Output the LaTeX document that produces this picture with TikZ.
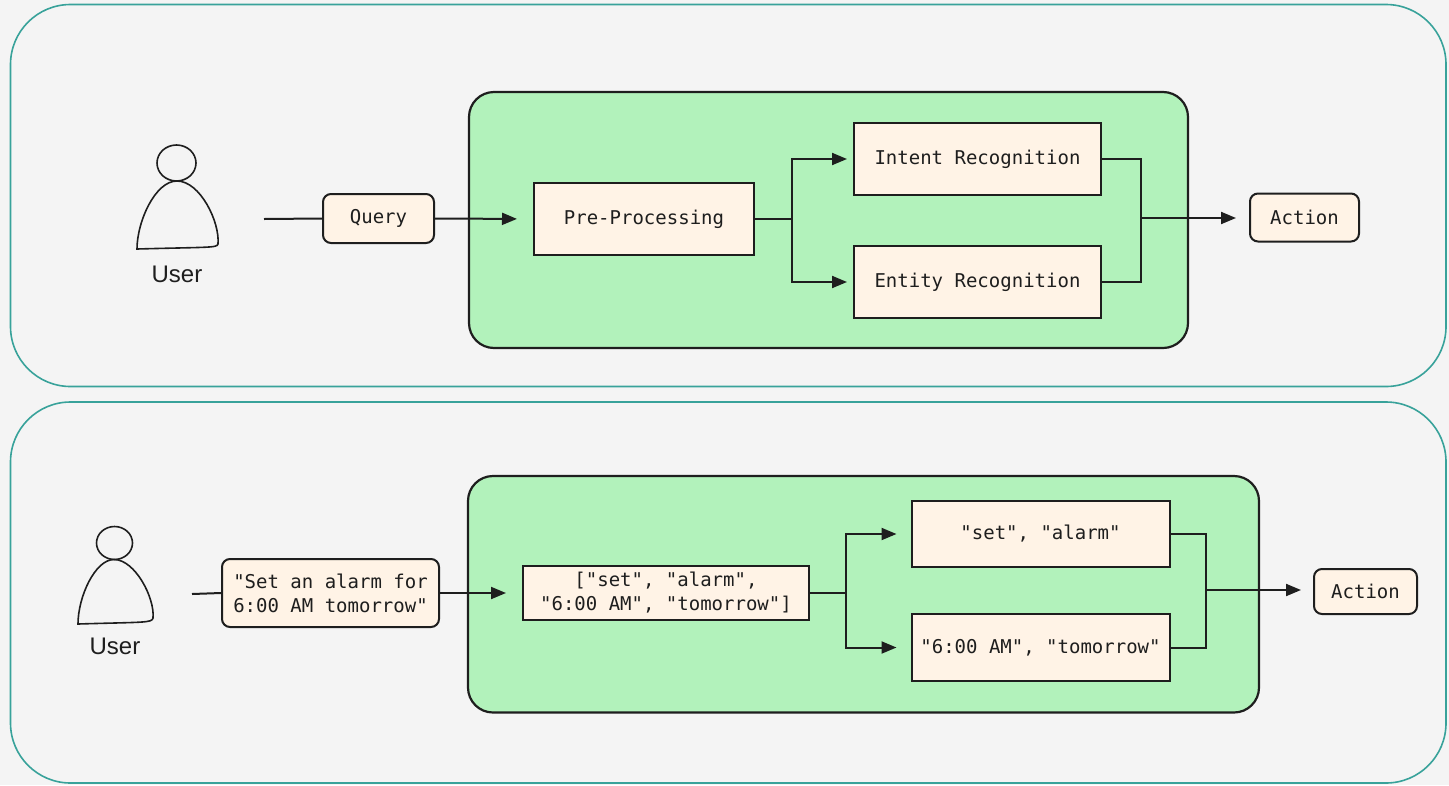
\documentclass[tikz,border=0pt]{standalone}
\usepackage{fontspec}
\setmonofont{DejaVu Sans Mono}
\setsansfont{Liberation Sans}
\usetikzlibrary{arrows.meta,positioning}
\definecolor{bgc}{HTML}{F4F4F4}
\definecolor{teal}{HTML}{38A29A}
\definecolor{greenc}{HTML}{B2F2BB}
\definecolor{boxc}{HTML}{FFF3E6}
\definecolor{ink}{HTML}{1E1E1E}
\tikzset{
  panel/.style={draw=teal,line width=1.6pt,rounded corners=60pt},
  stage/.style={draw=ink,fill=greenc,line width=2.2pt,rounded corners=25pt},
  sq/.style={draw=ink,fill=boxc,line width=2pt,text=ink,font=\ttfamily\fontsize{19}{24}\selectfont,align=center,inner sep=0pt},
  rd/.style={sq,rounded corners=8pt},
  conn/.style={draw=ink,line width=2pt},
  arr/.style={conn,-{Triangle[length=15pt,width=12pt]}},
  person/.style={draw=ink,line width=1.6pt},
  ulabel/.style={text=ink,font=\sffamily\fontsize{24}{28}\selectfont}
}
\begin{document}
\begin{tikzpicture}[x=1pt,y=-1pt]
\fill[bgc] (0,0) rectangle (1449,785);
\useasboundingbox (0,0) rectangle (1449,785);
% panels
\draw[panel] (10.5,4.5) rectangle (1446,386.5);
\draw[panel] (10.5,402) rectangle (1446,783);
% ---------- top ----------
\draw[stage] (469,92) rectangle (1188,348);
% user
\draw[person] (176.5,163) circle[x radius=19.5pt,y radius=18pt];
\draw[person] (137,249) .. controls (137,222) and (155,181) .. (177,181)
  .. controls (200,181) and (220,222) .. (218,244) .. controls (217,248) and (210,247) .. cycle;
\node[ulabel] (user1) at (177,274) {User};
\coordinate (u1) at (264,219);
\node[rd,minimum width=111pt,minimum height=49pt] (query) at (378.5,218.5) {Query};
\node[sq,minimum width=220pt,minimum height=72pt] (pre) at (644,219) {Pre-Processing};
\node[sq,minimum width=247pt,minimum height=72pt] (intent) at (977.5,159) {Intent Recognition};
\node[sq,minimum width=247pt,minimum height=72pt] (entity) at (977.5,282) {Entity Recognition};
\node[rd,minimum width=109pt,minimum height=48pt] (action1) at (1304.5,217.5) {Action};
\coordinate (b1) at (792,219);
\coordinate (m1) at (1141,218);
\draw[conn] (u1) -- (query.west);
\draw[arr,shorten >=16pt] (query.east) -- (pre.west);
\draw[conn] (pre.east) -- (b1);
\draw[arr,shorten >=6pt] (b1) |- (intent.west);
\draw[arr,shorten >=6pt] (b1) |- (entity.west);
\draw[conn] (intent.east) -| (m1);
\draw[conn] (entity.east) -| (m1);
\draw[arr,shorten >=13pt] (m1) -- (action1.west |- m1);
% ---------- bottom ----------
\draw[stage] (468,476) rectangle (1259,712.5);
\draw[person] (114.5,543) circle[x radius=18pt,y radius=16.5pt];
\draw[person] (78,624) .. controls (78,597) and (95,559.5) .. (114,559.5)
  .. controls (135,559.5) and (155,598) .. (153,618) .. controls (152,623) and (145,622) .. cycle;
\node[ulabel] (user2) at (115,646) {User};
\coordinate (u2) at (192,594);
\node[rd,minimum width=217pt,minimum height=68pt] (msg) at (330.5,593) {"Set an alarm for\\ 6:00 AM tomorrow"};
\node[sq,minimum width=286pt,minimum height=54pt] (list) at (666,593) {["set", "alarm",\\ "6:00 AM", "tomorrow"]};
\node[sq,minimum width=258pt,minimum height=66pt] (setal) at (1040.5,534) {"set", "alarm"};
\node[sq,minimum width=258pt,minimum height=67pt] (timet) at (1040.5,647.5) {"6:00 AM", "tomorrow"};
\node[rd,minimum width=103pt,minimum height=45pt] (action2) at (1365.5,591.5) {Action};
\coordinate (b2) at (846,593);
\coordinate (m2) at (1206,590);
\draw[conn] (u2) -- (msg.west);
\draw[arr,shorten >=16pt] (msg.east) -- (list.west);
\draw[conn] (list.east) -- (b2);
\draw[arr,shorten >=14pt] (b2) |- (setal.west);
\draw[arr,shorten >=14pt] (b2) |- (timet.west);
\draw[conn] (setal.east) -| (m2);
\draw[conn] (timet.east) -| (m2);
\draw[arr,shorten >=12pt] (m2) -- (action2.west |- m2);
\end{tikzpicture}
\end{document}
